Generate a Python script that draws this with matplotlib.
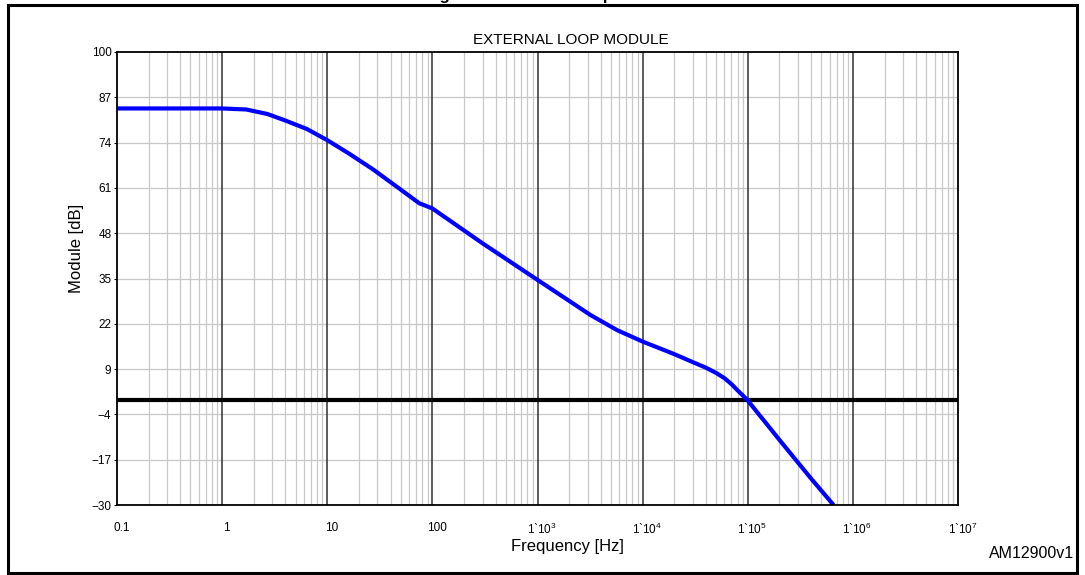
"""
External loop module (Bode magnitude) recreated from the datasheet figure.

Output: out.png (1085x575)
"""

import matplotlib

matplotlib.use("Agg")
import matplotlib.pyplot as plt
import matplotlib.transforms as mtransforms
from matplotlib.patches import Rectangle

plt.rcParams["font.family"] = ["Liberation Sans", "DejaVu Sans"]
plt.rcParams["mathtext.default"] = "regular"

# curve values
FREQ_HZ = [0.1, 1, 1.7, 2.7, 4.1, 6.4, 10, 16, 27, 48, 75, 100, 300,
           1000, 3200, 5700, 1e4, 2e4, 3e4, 4e4, 5e4, 6e4, 7e4, 8e4, 9e4,
           1e5, 1.2e5, 1.5e5, 2e5, 4e5, 6.55e5]
MODULE_DB = [83.8, 83.8, 83.5, 82.2, 80.2, 77.9, 74.7, 70.9, 66.4, 60.9,
             56.6, 55.1, 45.1, 34.6, 24.5, 20.2, 16.9, 13.3, 11.0, 9.4, 7.9,
             6.4, 4.7, 2.9, 1.4, 0.0, -3.0, -6.6, -11.3, -22.4, -30.0]

Y_TICKS = [100, 87, 74, 61, 48, 35, 22, 9, -4, -17, -30]
X_DECADES = [0.1, 1, 10, 100, 1e3, 1e4, 1e5, 1e6, 1e7]
X_LABELS = ["0.1", "1", "10", "100", "1`10$^{3}$", "1`10$^{4}$",
            "1`10$^{5}$", "1`10$^{6}$", "1`10$^{7}$"]
CROSSOVER_DB = 0.0


def main() -> None:
    fig = plt.figure(figsize=(10.85, 5.75), dpi=100)
    ax = fig.add_axes([117 / 1085, 70 / 575, 841 / 1085, 453 / 575])

    # minor decade grid (2..9)
    minor = [d * k for d in X_DECADES[:-1] for k in range(2, 10)]
    for f in minor:
        ax.axvline(f, color="#c8c8c8", lw=0.9, zorder=1)
    for f in X_DECADES[1:-1]:
        ax.axvline(f, color="#303030", lw=1.1, zorder=2)
    for v in Y_TICKS[1:-1]:
        ax.axhline(v, color="#c8c8c8", lw=0.9, zorder=1)

    ax.axhline(CROSSOVER_DB, color="black", lw=3, zorder=3)
    ax.semilogx(FREQ_HZ, MODULE_DB, color="#0000ff", lw=3,
                solid_capstyle="butt", solid_joinstyle="round", zorder=4)

    ax.set_xlim(0.1, 1e7)
    ax.set_ylim(-30, 100)
    ax.set_yticks(Y_TICKS)
    ax.set_yticklabels([str(v).replace("-", "\u2212") for v in Y_TICKS],
                       fontsize=8.5)
    ax.set_xticks(X_DECADES)
    ax.set_xticklabels(X_LABELS, fontsize=8.5)
    ax.xaxis.set_minor_locator(matplotlib.ticker.NullLocator())
    ax.tick_params(axis="x", length=0, pad=12)
    ax.tick_params(axis="y", length=2, width=0.8, pad=2)

    shift = mtransforms.ScaledTranslation(0.045, 0, fig.dpi_scale_trans)
    for lbl in ax.get_xticklabels():
        lbl.set_transform(lbl.get_transform() + shift)

    for s in ax.spines.values():
        s.set_color("black")
        s.set_linewidth(1.3)
        s.set_zorder(5)

    W, H = 1085, 575
    fig.text(571 / W, 1 - 40 / H, "EXTERNAL LOOP MODULE", ha="center",
             va="center", fontsize=11)
    fig.text(567 / W, 1 - 547 / H, "Frequency [Hz]", ha="center",
             va="center", fontsize=12)
    fig.text(76 / W, 1 - 248 / H, "Module [dB]", ha="center", va="center",
             rotation=90, fontsize=12)
    fig.text(1074 / W, 1 - 553 / H, "AM12900v1", ha="right", va="center",
             fontsize=11.5)
    # figure caption sits above the frame, only its descenders show
    fig.text(425 / W, 1.0, "Figure 10. External loop module", ha="left",
             va="baseline", fontsize=12, fontweight="bold")

    fig.patches.append(Rectangle((8 / W, 1 - 573 / H), 1069 / W, 568 / H,
                                 transform=fig.transFigure, fill=False,
                                 edgecolor="black", lw=2.2))

    fig.savefig("out.png", dpi=100)


if __name__ == "__main__":
    main()
